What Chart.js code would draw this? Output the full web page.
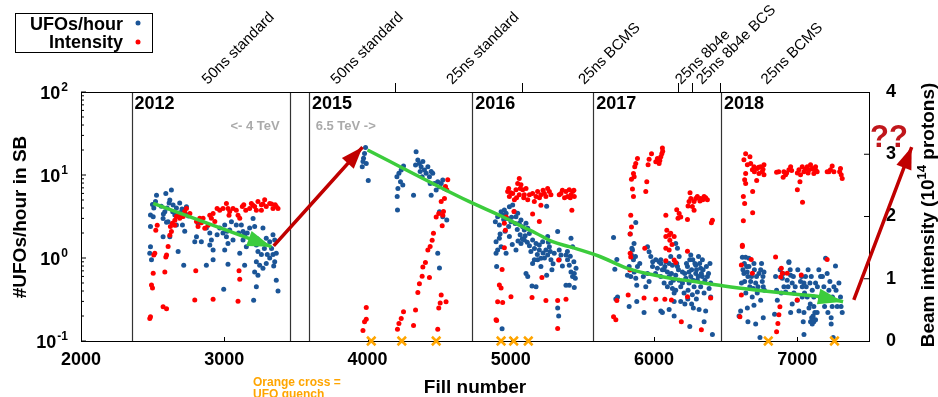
<!DOCTYPE html>
<html>
<head>
<meta charset="utf-8">
<script src="https://cdn.jsdelivr.net/npm/chart.js@4.4.1/dist/chart.umd.min.js"></script>
<style>
  html, body { margin: 0; padding: 0; background: #fff; }
  #ufoChart { display: block; }
</style>
</head>
<body>
<canvas id="ufoChart" width="938" height="397"></canvas>
<script>
(() => {
    'use strict';

    // UFO rate per fill (#/hour in stable beams), [fill, rate]
    const ufo2012 = [
        [2499, 4.4], [2508, 4.0], [2485, 3.3], [2504, 3.15], [2527, 5.7], [2592, 6.0], [2631, 6.6], [2620, 5.0],
        [2615, 4.6], [2601, 4.0], [2585, 3.6], [2573, 3.0], [2597, 2.7], [2643, 4.35], [2666, 4.0], [2689, 4.6],
        [2713, 3.8], [2736, 4.15], [2701, 3.15], [2708, 2.5], [2666, 2.5], [2724, 2.1], [2573, 1.8], [2620, 1.8],
        [2485, 2.4], [2485, 1.37], [2480, 1.14], [2492, 0.95], [2678, 1.2], [2717, 0.82], [2794, 1.57], [2806, 1.8],
        [2840, 1.57], [2817, 2.6], [2875, 2.3], [2899, 2.0], [2910, 1.65], [2899, 1.43], [2922, 1.25], [2875, 0.82],
        [2922, 0.95], [2968, 2.3], [2991, 2.0], [3003, 2.5], [3015, 1.8], [3038, 2.17], [3050, 2.74], [3061, 1.65],
        [3026, 1.5], [3026, 0.84], [3003, 1.25], [3084, 2.5], [3119, 2.5], [3131, 2.08], [3131, 1.65], [3142, 1.9],
        [3177, 2.3], [3201, 3.0], [3212, 2.4], [3189, 1.65], [3108, 1.14], [3154, 1.37], [3142, 0.82], [3224, 1.43],
        [3235, 1.2], [3259, 1.1], [3270, 2.3], [3293, 1.73], [3317, 1.57], [3340, 1.9], [3352, 1.65], [3224, 0.9],
        [3247, 0.82], [3270, 0.75], [3293, 0.86], [3317, 1.0], [3340, 1.1], [3363, 1.14], [3352, 0.9], [3212, 0.68],
        [3235, 0.62], [3224, 0.45], [3363, 0.54], [3375, 0.4], [3205, 0.31], [2996, 0.42], [2608, 2.74],
        [2640, 3.6], [2655, 3.3], [2690, 3.5], [2705, 3.9], [2730, 3.4], [2750, 3.2], [2575, 3.4], [2560, 4.2],
        [2520, 4.8], [3100, 2.0], [3160, 2.0], [3250, 1.5], [3280, 1.3], [3300, 1.1], [3330, 1.3], [3345, 0.8],
        [3230, 1.7], [3020, 2.1], [2950, 1.9],
    ];
    const ufo2015 = [
        [3986, 21.5], [3979, 18.2], [3972, 15.9], [3991, 13.8], [3963, 12.6], [3968, 14.5], [4005, 8.6], [4209, 3.8],
        [4207, 5.5], [4212, 6.9], [4219, 10.5], [4205, 9.5], [4235, 11.5], [4251, 12.8], [4230, 8.3], [4246, 7.6],
        [4321, 5.7], [4339, 19.1], [4351, 15.2], [4362, 13.8], [4374, 12.6], [4386, 14.5], [4367, 11.0], [4397, 11.5],
        [4409, 10.5], [4421, 12.6], [4432, 9.5], [4444, 11.0], [4455, 10.5], [4437, 7.9], [4467, 7.9], [4479, 6.6],
        [4444, 5.7], [4490, 8.3], [4502, 7.2], [4514, 7.9], [4525, 8.7], [4537, 6.9], [4502, 3.6], [4525, 3.15],
        [4553, 2.87], [4490, 1.14], [4502, 0.76], [4335, 13.2], [4381, 9.5],
    ];
    const ufo2016 = [
        [4892, 2.74], [4908, 3.15], [4932, 3.6], [4943, 3.3], [4955, 3.8], [4967, 3.45], [4990, 4.15], [5013, 4.35],
        [5025, 3.6], [5036, 3.15], [5048, 3.45], [5059, 2.62], [5071, 2.87], [5083, 2.38], [5094, 2.17], [5106, 2.62],
        [5118, 2.28], [5129, 1.98], [5094, 1.65], [5071, 1.5], [5036, 1.25], [4990, 1.81], [4920, 1.73], [4897, 1.57],
        [4908, 1.25], [4897, 1.14], [4901, 0.79], [4932, 1.37], [4967, 1.14], [5152, 1.65], [5176, 1.5], [5199, 1.43],
        [5222, 1.57], [5257, 1.81], [5269, 1.37], [5245, 1.25], [5257, 1.09], [5280, 0.95], [5199, 1.25], [5164, 0.95],
        [5187, 0.95], [5210, 0.99], [5152, 0.86], [5106, 0.65], [5118, 0.6], [5148, 0.46], [5176, 0.45], [5250, 0.62],
        [5287, 0.72], [5327, 2.08], [5250, 4.2], [5327, 0.25], [5334, 0.2], [4939, 0.14], [5338, 1.25], [5350, 1.09],
        [5338, 0.95], [5385, 1.09], [5396, 0.95], [5408, 0.82], [5420, 0.68], [5431, 0.6], [5443, 0.65], [5450, 0.57],
        [5408, 0.47], [5443, 0.44], [5385, 0.47], [5431, 1.37], [5420, 1.73], [5210, 0.79], [5303, 1.14], [5001, 2.74],
        [4920, 2.5], [4950, 2.9], [4975, 3.0], [4985, 2.4], [5005, 3.1], [5030, 2.6], [5045, 2.2], [5065, 1.9],
        [5080, 1.7], [5100, 1.85], [5115, 1.55], [5130, 1.4], [5140, 1.2], [5165, 1.3], [5185, 1.1], [5225, 1.15],
        [5235, 1.0], [5262, 1.55], [5275, 1.2], [5295, 0.85], [5360, 0.8], [5395, 1.2], [5415, 1.05], [5440, 0.9],
        [5455, 0.75], [4960, 2.1], [4925, 1.95], [5050, 1.6], [5010, 1.45],
    ];
    const ufo2017 = [
        [5717, 1.77], [5740, 0.96], [5726, 0.73], [5745, 0.34], [5733, 0.32], [5833, 1.95], [5872, 2.67], [5849, 1.25],
        [5842, 1.09], [5856, 0.95], [5826, 0.79], [5814, 0.62], [5837, 0.6], [5861, 0.68], [5872, 0.57], [5879, 0.47],
        [5884, 0.79], [5826, 0.26], [5879, 0.3], [5930, 0.22], [5942, 0.45], [5954, 1.37], [5965, 1.19], [5977, 1.04],
        [5989, 0.79], [5954, 0.65], [5965, 0.52], [6012, 0.95], [6023, 0.75], [6035, 0.9], [6047, 0.6], [6047, 0.23],
        [6058, 0.22], [6070, 0.72], [6082, 0.9], [6093, 0.68], [6070, 0.5], [6093, 0.45], [6105, 0.6], [6116, 0.5],
        [6128, 0.82], [6128, 0.43], [6140, 0.38], [6140, 0.3], [6105, 0.24], [6140, 0.2], [6151, 0.62], [6163, 0.79],
        [6163, 1.31], [6151, 1.5], [6175, 1.04], [6175, 0.54], [6186, 0.45], [6186, 0.3], [6198, 0.68], [6209, 0.38],
        [6221, 0.57], [6233, 0.79], [6244, 0.68], [6244, 0.5], [6256, 1.09], [6256, 0.6], [6267, 0.36], [6274, 0.25],
        [6279, 0.45], [6291, 0.65], [6291, 0.82], [6302, 0.54], [6302, 0.39], [6314, 0.24], [6325, 0.75], [6325, 0.45],
        [6337, 0.95], [6337, 0.6], [6349, 0.38], [6360, 0.23], [6372, 0.6], [6384, 0.43], [6395, 0.5], [6407, 0.12],
        [6349, 0.17], [6249, 0.15], [6047, 0.95], [6116, 1.04],
        [6047, 0.86], [6058, 0.72], [6075, 0.79], [6105, 0.86], [6121, 0.65], [6135, 0.54], [6151, 0.41], [6158, 0.86],
        [6170, 0.72], [6198, 0.5], [6214, 0.65], [6226, 0.86], [6237, 0.41], [6249, 0.95], [6262, 0.72], [6272, 0.54],
        [6285, 0.86], [6296, 0.72], [6308, 0.6], [6318, 0.86], [6330, 0.65], [6342, 0.72], [6355, 0.54], [6365, 0.79],
        [6380, 0.65], [6390, 0.86], [6310, 1.04], [6270, 0.95], [5990, 0.9], [6010, 0.65], [5925, 0.6], [5900, 0.86],
        [5870, 1.04], [5845, 1.31], [5860, 1.5], [6235, 0.32], [6295, 0.32], [6262, 0.28], [6215, 0.28], [6395, 0.34],
    ];
    const ufo2018 = [
        [6616, 1.02], [6639, 1.02], [6662, 0.99], [6646, 0.79], [6662, 0.79], [6697, 0.86], [6627, 0.65], [6655, 0.6],
        [6632, 0.52], [6674, 0.52], [6692, 0.43], [6709, 0.5], [6720, 0.38], [6732, 0.65], [6744, 0.72], [6755, 0.52],
        [6767, 0.68], [6762, 0.45], [6744, 0.31], [6697, 0.27], [6651, 0.25], [6604, 0.23], [6593, 0.2], [6655, 0.17],
        [6709, 0.16], [6739, 0.11], [6762, 0.19], [6848, 0.6], [6855, 0.41], [6841, 0.21], [6860, 0.31], [6895, 0.57],
        [6906, 0.45], [6918, 0.39], [6929, 0.54], [6941, 0.88], [6953, 0.62], [6964, 0.5], [6953, 0.22], [6964, 0.28],
        [6976, 0.38], [6999, 0.31], [7022, 0.52], [7034, 0.45], [7046, 0.5], [7034, 0.34], [7046, 0.22], [7041, 0.17],
        [7046, 0.12], [7011, 0.23], [7057, 0.6], [7069, 0.34], [7081, 0.25], [7097, 0.6], [7104, 0.41], [7115, 0.34],
        [7115, 0.26], [7127, 0.5], [7092, 0.17], [7104, 0.16], [7115, 0.17], [7127, 0.18], [7138, 0.22], [7150, 0.72],
        [7162, 0.6], [7185, 0.45], [7197, 0.34], [7208, 0.65], [7227, 0.52], [7213, 0.22], [7236, 0.19], [7236, 0.16],
        [7243, 0.26], [7266, 0.8], [7255, 0.45], [7278, 0.26], [7301, 0.34], [7313, 0.22], [7250, 0.11], [7197, 0.99],
        [6941, 0.9],
        [6620, 0.72], [6630, 0.86], [6650, 0.68], [6668, 0.45], [6680, 0.6], [6700, 0.72], [6715, 0.6], [6725, 0.45],
        [6750, 0.86], [6760, 0.6], [6770, 0.41], [6685, 0.34], [6640, 0.38], [6610, 0.5], [6880, 0.72], [6888, 0.38],
        [6900, 0.65], [6935, 0.45], [6950, 0.72], [6972, 0.6], [6985, 0.45], [7003, 0.72], [7030, 0.6], [7050, 0.38],
        [7062, 0.45], [7075, 0.72], [7088, 0.5], [7100, 0.19], [7110, 0.2], [7122, 0.22], [7090, 0.28], [7140, 0.45],
        [7160, 0.34], [7175, 0.6], [7190, 0.26], [7220, 0.41], [7245, 0.34], [7270, 0.41], [7290, 0.5], [7305, 0.26],
    ];

    // Beam intensity per fill (1e14 protons), [fill, intensity]
    const int2012 = [
        [2480, 0.36], [2485, 0.39], [2573, 0.55], [2597, 0.52], [2492, 0.90], [2499, 0.85], [2504, 1.09], [2585, 1.11],
        [2508, 1.38], [2515, 1.41], [2592, 1.35], [2597, 1.38], [2608, 1.52], [2522, 1.78], [2532, 1.86], [2620, 1.70],
        [2631, 1.76], [2624, 1.84], [2638, 1.89], [2655, 1.94], [2666, 2.0], [2678, 2.02], [2689, 1.97], [2713, 2.0],
        [2724, 2.08], [2736, 2.13], [2655, 1.86], [2806, 1.92], [2817, 1.84], [2829, 1.97], [2852, 1.97], [2864, 1.81],
        [2887, 1.86], [2899, 2.02], [2910, 1.97], [2922, 2.05], [2934, 1.92], [2950, 2.13], [2968, 2.10], [2991, 2.13],
        [3015, 2.21], [3026, 2.13], [3038, 2.08], [3033, 2.02], [3061, 2.13], [3084, 2.10], [3096, 2.02], [3108, 1.97],
        [3126, 2.16], [3136, 2.19], [2801, 1.13], [2794, 0.66], [2922, 0.67], [3096, 0.64], [3108, 0.99], [3103, 1.13],
        [3177, 2.13], [3189, 2.21], [3212, 2.16], [3235, 2.24], [3259, 2.19], [3282, 2.27], [3293, 2.16], [3317, 2.21],
        [3340, 2.13], [3363, 2.16], [3375, 2.13], [3224, 2.10], [3259, 2.10],
        [3150, 2.10], [3200, 2.18], [3270, 2.20], [3330, 2.20], [3355, 2.19], [2760, 2.05], [2840, 1.90],
    ];
    const int2015 = [
        [3968, 0.17], [3979, 0.31], [3991, 0.35], [3991, 0.54], [4209, 0.19], [4219, 0.28], [4235, 0.36], [4251, 0.47],
        [4321, 0.25], [4335, 0.50], [4351, 0.78], [4362, 0.92], [4381, 1.04], [4386, 1.19], [4404, 1.26], [4432, 1.02],
        [4421, 1.46], [4437, 1.52], [4451, 1.62], [4460, 1.73], [4479, 1.99], [4497, 2.05], [4521, 1.85], [4530, 2.08],
        [4514, 2.24], [4537, 2.29], [4553, 2.43], [4560, 2.59], [4497, 0.53], [4507, 0.61], [4514, 0.74], [4548, 0.63],
        [4490, 0.19], [4544, 2.48], [4525, 2.02],
    ];
    const int2016 = [
        [5059, 2.61], [5048, 2.53], [5071, 2.51], [4978, 2.40], [4990, 2.32], [5013, 2.37], [5036, 2.43], [5083, 2.43],
        [5106, 2.45], [5094, 2.35], [5059, 2.35], [5025, 2.27], [5118, 2.27], [5152, 2.37], [5176, 2.32], [5187, 2.40],
        [5210, 2.35], [5234, 2.37], [5257, 2.45], [5269, 2.40], [5245, 2.32], [5210, 2.18], [5164, 2.24], [5338, 2.35],
        [5350, 2.37], [5385, 2.40], [5408, 2.43], [5420, 2.35], [5431, 2.40], [5443, 2.32], [5396, 2.32], [5426, 2.10],
        [4967, 1.99], [4962, 1.78], [4955, 1.89], [5022, 2.08], [5152, 2.04], [5199, 1.92], [4955, 1.50], [4939, 1.15],
        [4920, 0.90], [4932, 0.85], [4908, 0.63], [4943, 0.62], [4897, 0.34], [4901, 0.33], [5001, 0.71], [5148, 0.70],
        [5217, 1.02], [5245, 0.65], [5327, 0.65], [5334, 1.30], [5385, 0.67], [5327, 0.20],
        [4985, 2.45], [5000, 2.38], [5040, 2.30], [5065, 2.45], [5090, 2.30], [5130, 2.35], [5200, 2.30], [5225, 2.42],
        [5280, 2.35], [5360, 2.42], [5375, 2.30], [5415, 2.30], [5440, 2.42],
    ];
    const int2017 = [
        [5717, 0.39], [5733, 0.34], [5740, 0.65], [5819, 0.74], [5833, 1.41], [5837, 1.35], [5831, 1.14], [5837, 2.02],
        [5842, 1.83], [5833, 1.72], [5856, 2.32], [5849, 2.44], [5842, 2.60], [5861, 2.64], [5856, 2.69], [5865, 2.80],
        [5872, 2.85], [5884, 2.93], [5949, 2.56], [5942, 2.40], [5958, 2.83], [5965, 2.92], [5982, 3.01], [6012, 2.88],
        [6023, 2.93], [6035, 2.85], [6047, 2.96], [6058, 3.10], [6054, 3.01], [5935, 1.49], [5930, 0.69], [6012, 0.67],
        [6075, 0.67], [6082, 2.02], [6089, 1.78], [6082, 1.68], [6105, 1.70], [6116, 1.73], [6140, 1.68], [6105, 1.46],
        [6082, 1.49], [6140, 1.30], [6151, 1.26], [6082, 1.29], [6158, 2.11], [6175, 2.05], [6186, 1.99], [6167, 1.97],
        [6233, 1.95], [6237, 2.17], [6244, 2.24], [6256, 2.29], [6251, 2.38], [6267, 2.16], [6279, 2.24], [6291, 2.29],
        [6302, 2.32], [6325, 2.29], [6349, 2.32], [6372, 2.27], [6279, 2.10], [6233, 1.44], [6233, 0.71], [6190, 0.31],
        [6330, 0.18], [6395, 0.69], [6407, 1.94], [6400, 1.90], [6121, 0.66],
        [6060, 3.05], [6040, 2.90], [6320, 2.25], [6340, 2.27], [6360, 2.30], [6110, 1.62], [6125, 1.55],
    ];
    const int2018 = [
        [6639, 3.01], [6669, 2.96], [6627, 2.91], [6651, 2.83], [6674, 2.85], [6697, 2.80], [6720, 2.77], [6744, 2.80],
        [6767, 2.83], [6732, 2.69], [6755, 2.72], [6767, 2.67], [6686, 2.75], [6639, 2.69], [6632, 2.59], [6639, 2.53],
        [6623, 2.32], [6632, 2.21], [6688, 2.40], [6688, 2.06], [6623, 1.93], [6616, 1.54], [6616, 1.52], [6716, 2.58],
        [6855, 2.71], [6906, 2.72], [6918, 2.67], [6941, 2.75], [6953, 2.80], [6901, 2.63], [7011, 2.75], [7022, 2.67],
        [7018, 2.56], [7034, 2.80], [7046, 2.72], [7069, 2.80], [7081, 2.75], [7092, 2.83], [7104, 2.77], [7115, 2.69],
        [7127, 2.80], [7138, 2.72], [7000, 2.43], [7036, 2.23], [7208, 2.72], [7231, 2.75], [7243, 2.81], [7255, 2.72],
        [7301, 2.77], [7306, 2.67], [7313, 2.61], [6678, 1.31], [6609, 1.22], [6609, 0.74], [6599, 0.39], [6848, 1.35],
        [6888, 1.17], [6883, 1.03], [6895, 1.09], [6929, 1.09], [6999, 0.66], [7027, 1.06], [6878, 0.55], [6871, 0.42],
        [6864, 0.28], [6855, 0.15], [7208, 1.31], [6686, 1.09],
        [6700, 2.72], [6730, 2.79], [6760, 2.76], [6870, 2.72], [6925, 2.70], [6960, 2.74], [7000, 2.70], [7055, 2.76],
        [7075, 2.70], [7110, 2.76], [7130, 2.74], [7220, 2.72], [7295, 2.72],
    ];

    const quenchFills = [4026, 4239, 4479, 4932, 5020, 5122, 6797, 7259];

    // hand-drawn trend arrows, [fill, UFOs/hour]
    const trend2012 = [[2504, 4.56], [3329, 1.37]];
    const trendRun2 = [
        [4000, 20.0], [4711, 4.77], [4943, 3.14], [5082, 2.38], [5176, 1.99], [5291, 1.57], [5408, 1.37], [5617, 1.05],
        [5814, 0.75], [6047, 0.60], [6279, 0.52], [6488, 0.46], [6720, 0.41], [6953, 0.37], [7162, 0.34], [7319, 0.297],
    ];
    const jumpTo2015 = [[3345, 1.40], [3965, 21.7]];
    const jumpAfter2018 = [[7394, 0.312], [7798, 21.7]];

    const yearLineFills = [2353, 3457, 3591, 4730, 5575, 6467];
    const yearNames = ['2012', '2015', '2016', '2017', '2018'];
    const yearStartFills = [2353, 3591, 4730, 5575, 6467];
    const schemeNames = ['50ns standard', '50ns standard', '25ns standard', '25ns BCMS', '25ns 8b4e', '25ns 8b4e BCS', '25ns BCMS'];
    const schemeFills = [2885, 3784, 4592, 5512, 6188, 6334, 6787];
    const schemeTickFills = [4195, 5075, 6169, 6267, 6462];
    const xTicks = [2000, 3000, 4000, 5000, 6000, 7000];
    const yDecades = [-1, 0, 1, 2];

    const BLUE = '#1b5597';
    const RED = '#ff0000';
    const DARK_RED = '#c00000';
    const GREEN = '#3ccc3c';
    const ORANGE = '#ffa500';
    const FONT = '"Liberation Sans", Arial, Helvetica, sans-serif';

    const toPoints = (rows) => rows.map(([x, y]) => ({ x, y }));

    const arrowHead = (ctx, from, to, color, length, half) => {
        const angle = Math.atan2(to.y - from.y, to.x - from.x);
        const cos = Math.cos(angle);
        const sin = Math.sin(angle);
        ctx.save();
        ctx.fillStyle = color;
        ctx.beginPath();
        ctx.moveTo(to.x, to.y);
        ctx.lineTo(to.x - length * cos + half * sin, to.y - length * sin - half * cos);
        ctx.lineTo(to.x - length * cos - half * sin, to.y - length * sin + half * cos);
        ctx.closePath();
        ctx.fill();
        ctx.restore();
    };

    const decorations = {
        id: 'decorations',
        beforeDatasetsDraw(chart) {
            const { ctx, chartArea: area, scales: { x, y, y2 } } = chart;
            ctx.save();
            ctx.strokeStyle = '#333';
            ctx.lineWidth = 1.2;
            yearLineFills.forEach((fill) => {
                const px = Math.round(x.getPixelForValue(fill)) + 0.5;
                ctx.beginPath();
                ctx.moveTo(px, area.top);
                ctx.lineTo(px, area.bottom);
                ctx.stroke();
            });

            ctx.strokeStyle = '#000';
            ctx.lineWidth = 1;
            ctx.beginPath();
            yDecades.forEach((p) => {
                const base = Math.pow(10, p);
                const py = y.getPixelForValue(base);
                ctx.moveTo(area.left, py); ctx.lineTo(area.left + 5, py);
                if (p < 2) {
                    for (let m = 2; m <= 9; m++) {
                        const my = y.getPixelForValue(base * m);
                        ctx.moveTo(area.left, my); ctx.lineTo(area.left + 3, my);
                    }
                }
            });
            [1, 2, 3].forEach((v) => {
                const py = y2.getPixelForValue(v);
                ctx.moveTo(area.right, py); ctx.lineTo(area.right - 5, py);
            });
            xTicks.forEach((v) => {
                const px = Math.round(x.getPixelForValue(v)) + 0.5;
                ctx.moveTo(px, area.bottom); ctx.lineTo(px, area.bottom - 4);
            });
            schemeTickFills.forEach((v) => {
                const px = Math.round(x.getPixelForValue(v)) + 0.5;
                ctx.moveTo(px, area.top); ctx.lineTo(px, area.top - 9);
            });
            ctx.stroke();
            ctx.strokeRect(Math.round(area.left) + 0.5, Math.round(area.top) + 0.5,
                Math.round(area.right - area.left), Math.round(area.bottom - area.top));
            ctx.restore();
        },
        afterDatasetsDraw(chart) {
            const { ctx } = chart;
            const heads = [[3, GREEN, 24, 8], [4, GREEN, 25, 8], [5, DARK_RED, 22, 8], [6, DARK_RED, 22, 8]];
            heads.forEach(([index, color, length, half]) => {
                const pts = chart.getDatasetMeta(index).data;
                const n = pts.length;
                arrowHead(ctx, pts[n - 2], pts[n - 1], color, length, half);
            });
        },
        afterDraw(chart) {
            const { ctx, chartArea: area, scales: { x, y } } = chart;
            ctx.save();

            ctx.fillStyle = '#000';
            ctx.textBaseline = 'middle';
            ctx.textAlign = 'right';
            yDecades.forEach((p) => {
                const py = y.getPixelForValue(Math.pow(10, p));
                ctx.font = `bold 12px ${FONT}`;
                const exp = String(p);
                const expWidth = ctx.measureText(exp).width;
                ctx.fillText(exp, 68, py - 4);
                ctx.font = `bold 18px ${FONT}`;
                ctx.fillText('10', 68 - expWidth - 1, py + 2);
            });

            ctx.save();
            ctx.translate(26, 217);
            ctx.rotate(-Math.PI / 2);
            ctx.textAlign = 'center';
            ctx.textBaseline = 'alphabetic';
            ctx.font = `bold 19px ${FONT}`;
            ctx.fillText('#UFOs/hour in SB', 0, 0);
            ctx.restore();

            ctx.save();
            ctx.translate(934, 215);
            ctx.rotate(-Math.PI / 2);
            ctx.textAlign = 'left';
            ctx.textBaseline = 'alphabetic';
            const partA = 'Beam intensity (10';
            const partB = '14';
            const partC = ' protons)';
            ctx.font = `bold 19px ${FONT}`;
            const wA = ctx.measureText(partA).width;
            const wC = ctx.measureText(partC).width;
            ctx.font = `bold 13px ${FONT}`;
            const wB = ctx.measureText(partB).width;
            let cx = -(wA + wB + wC) / 2;
            ctx.font = `bold 19px ${FONT}`;
            ctx.fillText(partA, cx, 0);
            cx += wA;
            ctx.font = `bold 13px ${FONT}`;
            ctx.fillText(partB, cx, -8);
            cx += wB;
            ctx.font = `bold 19px ${FONT}`;
            ctx.fillText(partC, cx, 0);
            ctx.restore();

            ctx.textAlign = 'center';
            ctx.textBaseline = 'alphabetic';
            ctx.font = `bold 19px ${FONT}`;
            ctx.fillText('Fill number', 475, 393);
            ctx.textAlign = 'left';
            ctx.fillStyle = ORANGE;
            ctx.font = `bold 12px ${FONT}`;
            ctx.fillText('Orange cross =', 253, 386);
            ctx.fillText('UFO quench', 253, 398);

            ctx.fillStyle = '#000';
            ctx.textBaseline = 'top';
            ctx.font = `bold 18px ${FONT}`;
            yearNames.forEach((name, i) => {
                ctx.fillText(name, x.getPixelForValue(yearStartFills[i]) + 3, area.top + 3);
            });

            ctx.fillStyle = '#aaaaaa';
            ctx.textBaseline = 'middle';
            ctx.font = `bold 13px ${FONT}`;
            ctx.textAlign = 'right';
            ctx.fillText('<- 4 TeV', x.getPixelForValue(3387), y.getPixelForValue(38));
            ctx.textAlign = 'left';
            ctx.fillText('6.5 TeV ->', x.getPixelForValue(3638), y.getPixelForValue(38));

            ctx.fillStyle = '#000';
            ctx.textBaseline = 'alphabetic';
            ctx.font = `15px ${FONT}`;
            schemeNames.forEach((name, i) => {
                ctx.save();
                ctx.translate(x.getPixelForValue(schemeFills[i]), area.top - 7);
                ctx.rotate(-Math.PI / 4);
                ctx.fillText(name, 0, 0);
                ctx.restore();
            });

            ctx.fillStyle = '#c0161b';
            ctx.textAlign = 'center';
            ctx.font = `bold 31px ${FONT}`;
            ctx.fillText('??', 889, 147);

            ctx.strokeStyle = '#000';
            ctx.lineWidth = 1;
            ctx.strokeRect(15.5, 13.5, 137, 39);
            ctx.fillStyle = '#000';
            ctx.textAlign = 'right';
            ctx.font = `bold 18px ${FONT}`;
            ctx.fillText('UFOs/hour', 123, 30);
            ctx.fillText('Intensity', 123, 48);
            ctx.fillStyle = BLUE;
            ctx.beginPath(); ctx.arc(138, 23, 2.5, 0, Math.PI * 2); ctx.fill();
            ctx.fillStyle = RED;
            ctx.beginPath(); ctx.arc(138, 42, 2.5, 0, Math.PI * 2); ctx.fill();
            ctx.restore();
        },
    };

    const dots = (rows, color, axis, order) => ({
        data: toPoints(rows),
        yAxisID: axis,
        backgroundColor: color,
        borderColor: color,
        borderWidth: 0,
        pointRadius: 2.5,
        showLine: false,
        clip: false,
        order,
    });

    const arrowLine = (rows, color) => ({
        data: toPoints(rows),
        yAxisID: 'y',
        showLine: true,
        borderColor: color,
        borderWidth: 3.5,
        pointRadius: 0,
        cubicInterpolationMode: 'monotone',
        clip: false,
        order: 0,
    });

    new Chart(document.getElementById('ufoChart').getContext('2d'), {
        type: 'scatter',
        data: {
            datasets: [
                dots([...ufo2012, ...ufo2015, ...ufo2016, ...ufo2017, ...ufo2018], BLUE, 'y', 3),
                dots([...int2012, ...int2015, ...int2016, ...int2017, ...int2018], RED, 'y2', 2),
                {
                    data: quenchFills.map((fill) => ({ x: fill, y: 0.1 })),
                    yAxisID: 'y',
                    pointStyle: 'crossRot',
                    pointRadius: 6,
                    borderColor: ORANGE,
                    borderWidth: 2.5,
                    showLine: false,
                    clip: false,
                    order: 1,
                },
                arrowLine(trend2012, GREEN),
                arrowLine(trendRun2, GREEN),
                arrowLine(jumpTo2015, DARK_RED),
                arrowLine(jumpAfter2018, DARK_RED),
            ],
        },
        options: {
            responsive: false,
            animation: false,
            devicePixelRatio: 1,
            layout: { padding: { top: 92, left: 0, right: 0, bottom: 0 } },
            plugins: { legend: { display: false }, tooltip: { enabled: false } },
            scales: {
                x: {
                    type: 'linear',
                    position: 'bottom',
                    min: 2000,
                    max: 7500,
                    grid: { display: false, drawTicks: false },
                    border: { display: false },
                    afterFit: (scale) => { scale.height = 56; },
                    afterBuildTicks: (scale) => { scale.ticks = xTicks.map((value) => ({ value })); },
                    ticks: {
                        autoSkip: false,
                        maxRotation: 0,
                        padding: 8,
                        color: '#000',
                        font: { family: FONT, size: 18, weight: 'bold' },
                        callback: (value) => String(value),
                    },
                },
                y: {
                    type: 'logarithmic',
                    position: 'left',
                    min: 0.1,
                    max: 100,
                    grid: { display: false, drawTicks: false },
                    border: { display: false },
                    ticks: { display: false },
                    afterFit: (scale) => { scale.width = 81; },
                },
                y2: {
                    type: 'linear',
                    position: 'right',
                    min: 0,
                    max: 4,
                    grid: { display: false, drawTicks: false },
                    border: { display: false },
                    afterFit: (scale) => { scale.width = 69; },
                    ticks: {
                        stepSize: 1,
                        padding: 17,
                        color: '#000',
                        font: { family: FONT, size: 18, weight: 'bold' },
                    },
                },
            },
        },
        plugins: [decorations],
    });
})();
</script>
</body>
</html>
